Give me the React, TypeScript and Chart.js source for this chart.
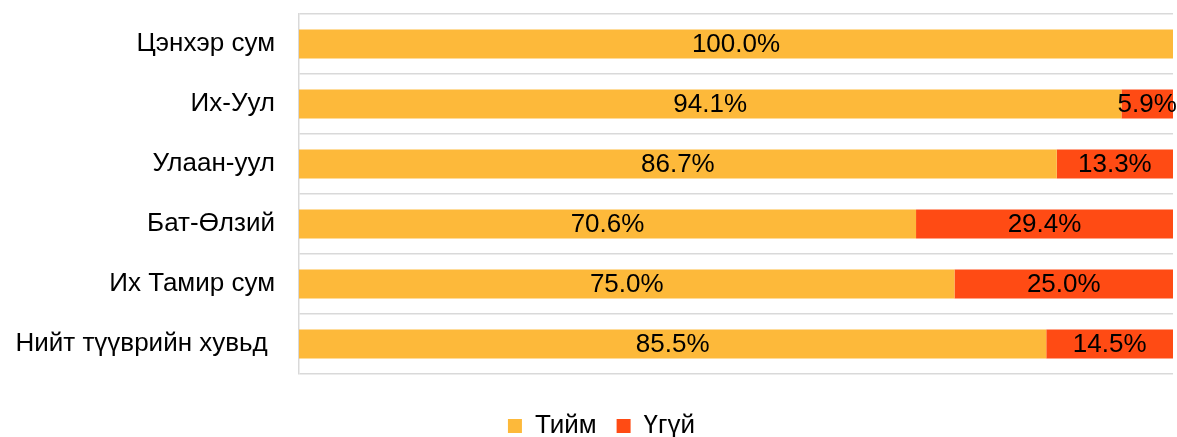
import React, { useEffect, useRef } from "react";
import { Chart, registerables } from "chart.js";

Chart.register(...registerables);

const categories = [
  "Цэнхэр сум",
  "Их-Уул",
  "Улаан-уул",
  "Бат-Өлзий",
  "Их Тамир сум",
  "Нийт түүврийн хувьд ",
];
const yesValues = [100.0, 94.1, 86.7, 70.6, 75.0, 85.5];
const noValues = [0.0, 5.9, 13.3, 29.4, 25.0, 14.5];
const seriesNames = ["Тийм", "Үгүй"];

const FONT = "'Liberation Sans', Arial, sans-serif";
const FS = 26;

const valueLabels = {
  id: "valueLabels",
  afterDatasetsDraw(chart: any) {
    const ctx = chart.ctx;
    ctx.save();
    ctx.font = `${FS}px ${FONT}`;
    ctx.fillStyle = "#000";
    ctx.textAlign = "center";
    ctx.textBaseline = "middle";
    chart.data.datasets.forEach((ds: any, di: number) => {
      const meta = chart.getDatasetMeta(di);
      meta.data.forEach((el: any, i: number) => {
        const v = ds.data[i];
        if (!v) return;
        const { x, base, y } = el.getProps(["x", "base", "y"], true);
        ctx.fillText(v.toFixed(1) + "%", (x + base) / 2, y + 1);
      });
    });
    ctx.restore();
  },
};

const legendShift = {
  id: "legendShift",
  afterLayout(chart: any) {
    if (chart.legend) {
      chart.legend.left += 15;
      chart.legend.right += 15;
    }
  },
};

export default function App() {
  const ref = useRef<HTMLCanvasElement | null>(null);
  useEffect(() => {
    if (!ref.current) return;
    const chart = new Chart(ref.current, {
      type: "bar",
      data: {
        labels: categories,
        datasets: [
          {
            label: seriesNames[0],
            data: yesValues,
            backgroundColor: "#FDB93A",
            categoryPercentage: 1,
            barPercentage: 0.48,
          },
          {
            label: seriesNames[1],
            data: noValues,
            backgroundColor: "#FF4B14",
            categoryPercentage: 1,
            barPercentage: 0.48,
          },
        ],
      },
      options: {
        indexAxis: "y",
        responsive: false,
        animation: false,
        devicePixelRatio: 1,
        layout: { padding: { left: 0, right: 4, top: 14, bottom: 0 } },
        scales: {
          x: {
            stacked: true,
            min: 0,
            max: 100,
            display: true,
            grid: { display: false },
            border: { display: false },
            ticks: { display: false },
            afterFit: (s: any) => {
              s.height = 19;
              s.paddingLeft = 0;
              s.paddingRight = 0;
            },
          },
          y: {
            stacked: true,
            grid: { display: true, color: "#D9D9D9", lineWidth: 1.5, drawTicks: false, offset: true },
            border: { display: true, color: "#D9D9D9", width: 1.5 },
            ticks: {
              color: "#000",
              padding: 24,
              font: { family: FONT, size: FS },
            },
            afterFit: (s: any) => {
              s.width = 299;
              s.paddingTop = 0;
              s.paddingBottom = 0;
            },
          },
        },
        plugins: {
          legend: {
            display: true,
            position: "bottom",
            labels: {
              color: "#000",
              boxWidth: 14,
              boxHeight: 14,
              padding: 20,
              font: { family: FONT, size: FS },
            },
          },
          tooltip: { enabled: false },
        },
      },
      plugins: [valueLabels, legendShift],
    });
    return () => chart.destroy();
  }, []);
  return (
    <div
      style={{
        position: "fixed",
        left: 0,
        top: 0,
        width: 1177,
        height: 437,
        overflow: "hidden",
        background: "#fff",
      }}
    >
      <canvas ref={ref} width={1177} height={449} style={{ display: "block" }} />
    </div>
  );
}
